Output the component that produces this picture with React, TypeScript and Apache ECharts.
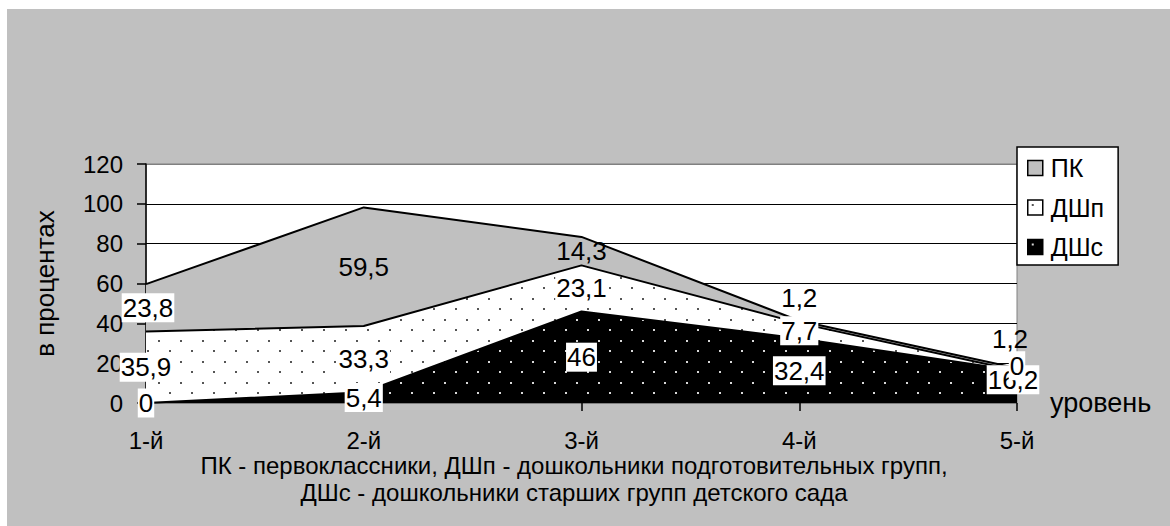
import React, { useEffect, useRef } from "react";
import * as echarts from "echarts";

// ---- data ----
const categories = ["1-й", "2-й", "3-й", "4-й", "5-й"];
const pkName = "ПК";
const dshpName = "ДШп";
const dshsName = "ДШс";
const pkValues = [23.8, 59.5, 14.3, 1.2, 1.2];
const dshpValues = [35.9, 33.3, 23.1, 7.7, 0];
const dshsValues = [0, 5.4, 46, 32.4, 16.2];
const yTicks = [0, 20, 40, 60, 80, 100, 120];
const xAxisName = "уровень";
const yAxisName = "в процентах";
const footnoteLines = [
  "ПК - первоклассники, ДШп - дошкольники подготовительных групп,",
  "ДШс - дошкольники старших групп детского сада",
];

// ---- label styling (which labels get a white box, small nudges) ----
const pkLabelBox = [true, false, false, false, false];
const dshpLabelBox = [true, true, true, true, true];
const dshsLabelBox = [true, true, true, true, true];
const pkLabelNudge = [[2, 0], [0, 0], [0, 0], [0, -24], [-7, -31]];
const dshpLabelNudge = [[0, 0], [0, 0], [0, 0], [0, 0], [0, -5]];
const dshsLabelNudge = [[0, 0], [0, 0], [0, 0], [0, 0], [-4, -7]];

const FONT = '"Liberation Sans", Arial, sans-serif';

function fmt(v: number): string {
  return String(v).replace(".", ",");
}

function makeDots(bg: string, dot: string): HTMLCanvasElement {
  const c = document.createElement("canvas");
  c.width = 22;
  c.height = 21;
  const ctx = c.getContext("2d")!;
  ctx.fillStyle = bg;
  ctx.fillRect(0, 0, 22, 21);
  ctx.fillStyle = dot;
  ctx.fillRect(4, 4, 2, 2);
  ctx.fillRect(15, 14, 2, 2);
  return c;
}

export default function App() {
  const ref = useRef<HTMLDivElement>(null);

  useEffect(() => {
    if (!ref.current) return;
    const chart = echarts.init(ref.current, null, { renderer: "svg" });

    const whiteDots = { image: makeDots("#ffffff", "#555555"), repeat: "repeat" };
    const blackDots = { image: makeDots("#000000", "#d8d8d8"), repeat: "repeat" };
    const gray = "#c0c0c0";

    type LabelItem = { value: [number, number]; text: string; box: boolean; dx: number; dy: number };
    const labelItems: LabelItem[] = [];
    categories.forEach((_, i) => {
      const b0 = dshsValues[i];
      const b1 = b0 + dshpValues[i];
      const b2 = b1 + pkValues[i];
      labelItems.push({ value: [i, b0 / 2], text: fmt(dshsValues[i]), box: dshsLabelBox[i], dx: dshsLabelNudge[i][0], dy: dshsLabelNudge[i][1] });
      labelItems.push({ value: [i, (b0 + b1) / 2], text: fmt(dshpValues[i]), box: dshpLabelBox[i], dx: dshpLabelNudge[i][0], dy: dshpLabelNudge[i][1] });
      labelItems.push({ value: [i, (b1 + b2) / 2], text: fmt(pkValues[i]), box: pkLabelBox[i], dx: pkLabelNudge[i][0], dy: pkLabelNudge[i][1] });
    });

    const splitColors = yTicks.map((t, idx) => (idx === yTicks.length - 1 ? "#808080" : "#000000"));
    const lineStyle = { color: "#000", width: 2 };

    chart.setOption({
      animation: false,
      backgroundColor: "#ffffff",
      graphic: [
        {
          type: "rect",
          z: -100,
          silent: true,
          shape: { x: 7, y: 9, width: 1163, height: 517 },
          style: { fill: gray },
        },
        {
          type: "text",
          z: 10,
          x: 574,
          y: 479,
          style: {
            text: footnoteLines.join("\n"),
            font: `24px ${FONT}`,
            fill: "#000",
            align: "center",
            verticalAlign: "middle",
            lineHeight: 27,
          },
        },
      ],
      grid: {
        left: 146,
        top: 164,
        width: 871,
        height: 239,
        show: true,
        backgroundColor: "#ffffff",
        borderColor: "#808080",
        borderWidth: 1,
        containLabel: false,
      },
      legend: {
        orient: "vertical",
        left: 1017,
        top: 147,
        selectedMode: false,
        backgroundColor: "#ffffff",
        borderColor: "#000",
        borderWidth: 1.5,
        borderRadius: 0,
        padding: [8, 14, 5, 10],
        itemWidth: 15,
        itemHeight: 15,
        itemGap: 13.5,
        textStyle: { fontSize: 25, fontFamily: FONT, color: "#000", lineHeight: 26, padding: [0, 0, 0, 3] },
        data: [
          { name: pkName, icon: "rect", itemStyle: { color: gray, borderColor: "#000", borderWidth: 1.5 } },
          { name: dshpName, icon: "rect", itemStyle: { color: whiteDots, borderColor: "#000", borderWidth: 1.5 } },
          { name: dshsName, icon: "rect", itemStyle: { color: blackDots, borderColor: "#000", borderWidth: 1.5 } },
        ],
      },
      xAxis: {
        type: "category",
        data: categories,
        boundaryGap: false,
        name: xAxisName,
        nameLocation: "end",
        nameGap: 33,
        nameTextStyle: { fontSize: 27, fontFamily: FONT, color: "#000", align: "left", verticalAlign: "middle", padding: [0, 0, 40, 0] },
        axisLine: { show: true, lineStyle: { color: "#808080", width: 1 } },
        axisTick: { show: true, length: 8, lineStyle: { color: "#000", width: 1.5 } },
        axisLabel: { fontSize: 24, fontFamily: FONT, color: "#000", margin: 25 },
        splitLine: { show: false },
      },
      yAxis: {
        type: "value",
        min: 0,
        max: 120,
        interval: 20,
        name: yAxisName,
        nameLocation: "middle",
        nameRotate: 90,
        nameGap: 88,
        nameTextStyle: { fontSize: 26, fontFamily: FONT, color: "#000" },
        axisLine: { show: true, lineStyle: { color: "#000", width: 1.5 } },
        axisTick: { show: true, length: 9, lineStyle: { color: "#000", width: 1.5 } },
        axisLabel: { fontSize: 24, fontFamily: FONT, color: "#000", margin: 23 },
        splitLine: { show: true, lineStyle: { color: splitColors, width: 1.2 } },
      },
      series: [
        {
          name: dshsName,
          type: "line",
          stack: "total",
          data: dshsValues,
          symbol: "none",
          lineStyle,
          itemStyle: { color: blackDots },
          areaStyle: { color: blackDots, opacity: 1 },
          z: 3,
        },
        {
          name: dshpName,
          type: "line",
          stack: "total",
          data: dshpValues,
          symbol: "none",
          lineStyle,
          itemStyle: { color: whiteDots },
          areaStyle: { color: whiteDots, opacity: 1 },
          z: 3,
        },
        {
          name: pkName,
          type: "line",
          stack: "total",
          data: pkValues,
          symbol: "none",
          lineStyle,
          itemStyle: { color: gray },
          areaStyle: { color: gray, opacity: 1 },
          z: 3,
        },
        {
          name: "labels",
          type: "custom",
          z: 10,
          silent: true,
          encode: { x: 0, y: 1 },
          data: labelItems.map((d) => d.value),
          renderItem: (params: any, api: any) => {
            const it = labelItems[params.dataIndex];
            const p = api.coord([api.value(0), api.value(1)]);
            return {
              type: "text",
              x: p[0] + it.dx,
              y: p[1] + it.dy,
              style: {
                text: it.text,
                fill: "#000",
                font: `26px ${FONT}`,
                align: "center",
                verticalAlign: "middle",
                backgroundColor: it.box ? "#ffffff" : "transparent",
                padding: [2, 1, 1, 1],
              },
            };
          },
        },
      ],
    });

    return () => chart.dispose();
  }, []);

  return (
    <div
      ref={ref}
      style={{ position: "fixed", left: 0, top: 0, width: 1170, height: 526 }}
    />
  );
}
